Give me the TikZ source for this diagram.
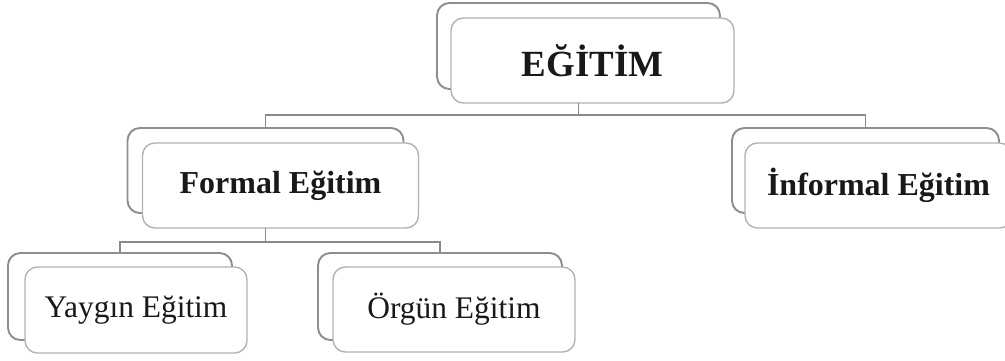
\documentclass[tikz,border=0pt]{standalone}
\usepackage{fontspec}
\setmainfont{Liberation Serif}
\usetikzlibrary{positioning}

\definecolor{boxGray}{HTML}{8E8E8E}
\definecolor{frontGray}{HTML}{B2B2B2}
\definecolor{linkGray}{HTML}{8A8A8A}

\tikzset{
  backBox/.style={draw=boxGray, line width=1.1pt, rounded corners=7pt,
    fill=white, inner sep=0pt, outer sep=0pt},
  frontBox/.style={draw=frontGray, line width=0.8pt, rounded corners=7pt,
    fill=white, inner sep=0pt, outer sep=0pt, text=black!90},
  link/.style={draw=linkGray, line width=1.1pt},
  titleText/.style={font=\fontsize{21}{24}\selectfont\bfseries},
  boldText/.style={font=\fontsize{18.2}{21}\selectfont\bfseries},
  plainText/.style={font=\fontsize{17.9}{21}\selectfont}
}

\begin{document}
\begin{tikzpicture}[x=0.02cm, y=-0.02cm]
      \useasboundingbox (0,0) rectangle (1005,360);
      % Egitim:
      %   the root of the tree
      \node[backBox, minimum width=5.66cm, minimum height=1.72cm] (EgitimBack) at (578.5,46) {};
      \node[frontBox, titleText, minimum width=5.66cm, minimum height=1.70cm] (Egitim) at (592.5,60.5) {EĞİTİM};
      % FormalEgitim:
      %   left branch, has two children
      \node[backBox, minimum width=5.52cm, minimum height=1.70cm] (FormalBack) at (265.5,170.5) {};
      \node[frontBox, boldText, minimum width=5.52cm, minimum height=1.70cm] (Formal) at (280.5,185.5) {Formal Eğitim};
      % InformalEgitim:
      %   right branch, runs past the right edge
      \node[backBox, minimum width=5.34cm, minimum height=1.70cm] (InformalBack) at (865.5,170.5) {};
      \node[frontBox, boldText, minimum width=5.34cm, minimum height=1.70cm] (Informal) at (878.5,185.5) {İnformal Eğitim};
      % YayginEgitim
      \node[backBox, minimum width=4.48cm, minimum height=1.74cm] (YayginBack) at (120,296.5) {};
      \node[frontBox, plainText, minimum width=4.44cm, minimum height=1.72cm] (Yaygin) at (136,310) {Yaygın Eğitim};
      % OrgunEgitim
      \node[backBox, minimum width=4.88cm, minimum height=1.74cm] (OrgunBack) at (440,296.5) {};
      \node[frontBox, plainText, minimum width=4.84cm, minimum height=1.70cm] (Orgun) at (454,309.5) {Örgün Eğitim};

      % links
      \draw[link] (EgitimBack.south |- Egitim.south) -- ++(0,12) coordinate (EgitimJoint);
      \draw[link] (EgitimJoint) -| (FormalBack.north);
      \draw[link] (EgitimJoint) -| (InformalBack.north);
      \draw[link] (FormalBack.south |- Formal.south) -- ++(0,14) coordinate (FormalJoint);
      \draw[link] (FormalJoint) -| (YayginBack.north);
      \draw[link] (FormalJoint) -| (OrgunBack.north);
    \end{tikzpicture}
\end{document}
